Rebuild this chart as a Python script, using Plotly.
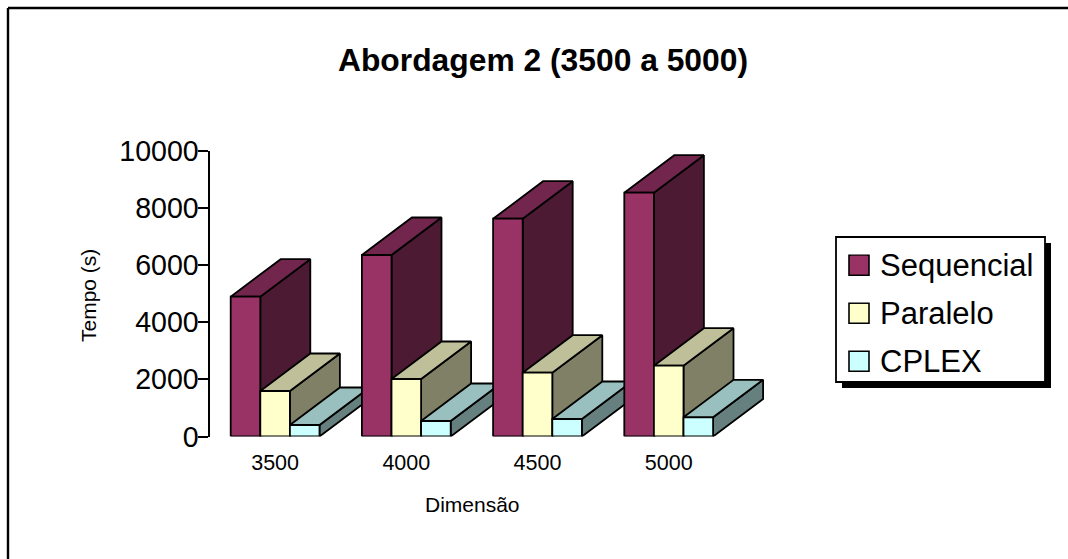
import plotly.graph_objects as go

categories = ["3500", "4000", "4500", "5000"]
sequencial = [4888, 6346, 7615, 8524]
paralelo = [1591, 2010, 2231, 2475]
cplex = [402, 542, 612, 671]
tick_values_y = [0, 2000, 4000, 6000, 8000, 10000]
tick_text_y = ["0", "2000", "4000", "6000", "8000", "10000"]

W, H = 1068, 559
FONT = "Liberation Sans"
series = [
    ("Sequencial", sequencial, "#993366", "#73264D", "#4D1A33"),
    ("Paralelo", paralelo, "#FFFFCC", "#BFBF99", "#808066"),
    ("CPLEX", cplex, "#CCFFFF", "#99BFBF", "#668080"),
]
STEP_PX = 131.2
EXTRA_PX = 70
PLOT_L, PLOT_T, PLOT_B = 209.5, 150.5, 436.5
PLOT_R = PLOT_L + STEP_PX * 4 + EXTRA_PX
YPX = (PLOT_B - PLOT_T) / 10000
BAR_W = 29.6 / STEP_PX
DX = 50 / STEP_PX
DY = 37.5 / YPX
EDGE = 1.8


def px(x):
    return x / W


def py(y):
    return 1 - y / H


fig = go.Figure()


def face(xs, ys, color):
    fig.add_trace(go.Scatter(
        x=xs + xs[:1], y=ys + ys[:1], mode="lines", fill="toself", fillcolor=color,
        line=dict(color="black", width=EDGE), cliponaxis=False, showlegend=False,
        hoverinfo="skip"))


for i in range(len(categories)):
    for k, (name, vals, front, top, side) in enumerate(series):
        v = vals[i]
        x0 = i - 1.5 * BAR_W + k * BAR_W
        x1 = x0 + BAR_W
        face([x1, x1 + DX, x1 + DX, x1], [0, DY, v + DY, v], side)
        face([x0, x1, x1 + DX, x0 + DX], [v, v, v + DY, v + DY], top)
        face([x0, x1, x1, x0], [0, 0, v, v], front)

for k, (name, vals, front, top, side) in enumerate(series):
    fig.add_trace(go.Scatter(
        x=[None], y=[None], mode="markers", name=name, legendgroup=name,
        marker=dict(symbol="square", size=20, color=front, line=dict(color=front, width=0))))

# legend box, its drop shadow and the swatch outlines sit behind the transparent legend
shapes = [
    dict(type="rect", xref="paper", yref="paper", x0=px(842), x1=px(1051), y0=py(243), y1=py(388),
         fillcolor="black", line=dict(color="black", width=0)),
    dict(type="rect", xref="paper", yref="paper", x0=px(836), x1=px(1045), y0=py(237), y1=py(382),
         fillcolor="white", line=dict(color="black", width=1.8)),
    dict(type="line", xref="paper", yref="paper", x0=px(8), x1=1, y0=py(8), y1=py(8),
         line=dict(color="black", width=2.4)),
    dict(type="line", xref="paper", yref="paper", x0=px(8), x1=px(8), y0=0, y1=py(8),
         line=dict(color="black", width=2.4)),
]
for (name, vals, front, top, side), yc in zip(series, [265.3, 313.3, 361.2]):
    shapes.append(dict(type="rect", xref="paper", yref="paper", x0=px(849), x1=px(869),
                       y0=py(yc - 10), y1=py(yc + 10), fillcolor=front,
                       line=dict(color="black", width=1.6)))

fig.update_layout(
    width=W, height=H, autosize=False,
    margin=dict(l=0, r=0, t=0, b=0, pad=0),
    paper_bgcolor="white", plot_bgcolor="rgba(0,0,0,0)",
    font=dict(family=FONT, color="black"),
    title=dict(text="<b>Abordagem 2 (3500 a 5000)</b>", font=dict(size=31.8, family=FONT),
               x=543 / W, xanchor="center", xref="paper", y=py(60), yanchor="middle",
               automargin=False),
    xaxis=dict(domain=[px(PLOT_L), px(PLOT_R)], range=[-0.5, 3.5 + EXTRA_PX / STEP_PX],
               tickmode="array", automargin=False,
               tickvals=list(range(len(categories))), ticktext=categories,
               showgrid=False, zeroline=False, showline=False, ticks="outside", ticklen=7,
               tickcolor="rgba(0,0,0,0)", tickfont=dict(size=21.5)),
    yaxis=dict(domain=[py(PLOT_B), py(PLOT_T)], range=[0, 10000], tickmode="array",
               automargin=False, tickvals=tick_values_y, ticktext=tick_text_y, showgrid=False,
               zeroline=False, showline=True, ticklabelstandoff=-7,
               linecolor="black", linewidth=2, ticks="outside", ticklen=10, tickwidth=2,
               tickcolor="black", tickfont=dict(size=28.6)),
    legend=dict(x=px(838), y=py(237), xanchor="left", yanchor="top", bgcolor="rgba(0,0,0,0)",
                borderwidth=0, font=dict(size=31), itemsizing="trace", itemwidth=32,
                tracegroupgap=5, traceorder="grouped"),
    shapes=shapes,
    annotations=[
        dict(text="Dimensão", xref="paper", yref="paper", x=px(472), y=py(504), showarrow=False,
             xanchor="center", yanchor="middle", font=dict(size=21)),
        dict(text="Tempo (s)", xref="paper", yref="paper", x=px(88), y=py(295), showarrow=False,
             xanchor="center", yanchor="middle", textangle=-90, font=dict(size=21)),
    ],
)
fig.write_html("out.html", config=dict(displayModeBar=False),
               post_script="document.body.style.margin='0';document.body.style.overflow='hidden';")
